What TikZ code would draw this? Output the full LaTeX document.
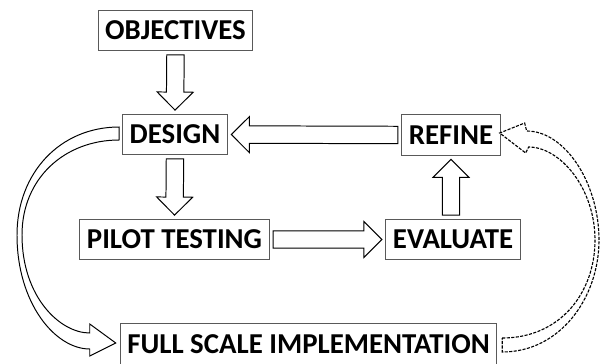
\documentclass[tikz,border=0pt]{standalone}
\usepackage{fontspec}
\setmainfont{Carlito}
\usetikzlibrary{calc}
\tikzset{stage/.style = {draw=black!65, line width=0.7pt, fill=white, inner xsep=5pt, minimum height=29pt, font=\bfseries\fontsize{20.5}{22}\selectfont}}
\tikzset{blockarrow/.style = {draw=black, line width=0.7pt, fill=white, line join=miter}}
\tikzset{curvearrow/.style = {blockarrow}}
\tikzset{dashcurve/.style = {blockarrow, line width=0.8pt, dash pattern=on 2.2pt off 1pt}}
% fat arrow from #1 to #2, shaft 12.4pt wide, head 25.6pt wide
\newcommand\fatarrow[2]{%
  \draw[blockarrow] let \p1=($(#2)-(#1)$), \n1={atan2(\y1,\x1)}, \n2={veclen(\x1,\y1)} in
    {[shift={(#1)}, rotate=\n1, x=1pt, y=1pt]
     (2.5,-6.2) -- (\n2-15.3,-6.2) -- (\n2-15.3,-12.8) -- (\n2-2.5,0) -- (\n2-15.3,12.8) -- (\n2-15.3,6.2) -- (2.5,6.2) -- cycle};
}

\begin{document}
\begin{tikzpicture}[x=0.025cm, y=0.025cm]
	\useasboundingbox (0,0) rectangle (600,363);
	\node[stage] (obj) at (175.5,332.5) {OBJECTIVES};
	\node[stage] (design) at (175,228.5) {DESIGN};
	\node[stage] (pilot) at (174.5,123.5) {PILOT TESTING};
	\node[stage] (refine) at (451,228) {REFINE};
	\node[stage] (evaluate) at (453,123.5) {EVALUATE};
	\node[stage] (full) at (308.5,19) {FULL SCALE IMPLEMENTATION};
	% straight arrows
	\fatarrow{obj.south}{design.north}
	\fatarrow{design.south}{pilot.north}
	\fatarrow{pilot.east}{evaluate.west}
	\fatarrow{evaluate.north -| refine.south}{refine.south}
	\fatarrow{refine.west}{design.east}
	% design -> full scale, round the left
	\draw[curvearrow] ($(design.west)+(-3,7.5)$) .. controls (60,236) and (17,190) .. (17,128)
		.. controls (17,60) and (55,14) .. ($(full.west)+(-30,-5)$) -- ++(0,-7)
		-- ($(full.west)+(-4,1)$) -- ($(full.west)+(-30,20)$) -- ++(0,-9)
		.. controls (60,30) and (22,66) .. (22,128)
		.. controls (22,185) and (65,223) .. ($(design.west)+(-3,-5.5)$) -- cycle;
	% full scale -> refine, dashed, round the right
	\draw[dashcurve] ($(full.east)+(5,6)$) .. controls (560,25) and (595,70) .. (595,123)
		.. controls (595,175) and (560,216) .. ($(refine.east)+(28,-12)$)
		-- ($(refine.east)+(25,-18)$) -- ($(refine.east)+(-1,2)$) -- ($(refine.east)+(24,12)$)
		-- ($(refine.east)+(26,4)$) .. controls (565,232) and (599,180) .. (599,123)
		.. controls (599,65) and (560,11) .. ($(full.east)+(5,-8)$) -- cycle;
\end{tikzpicture}
\end{document}
